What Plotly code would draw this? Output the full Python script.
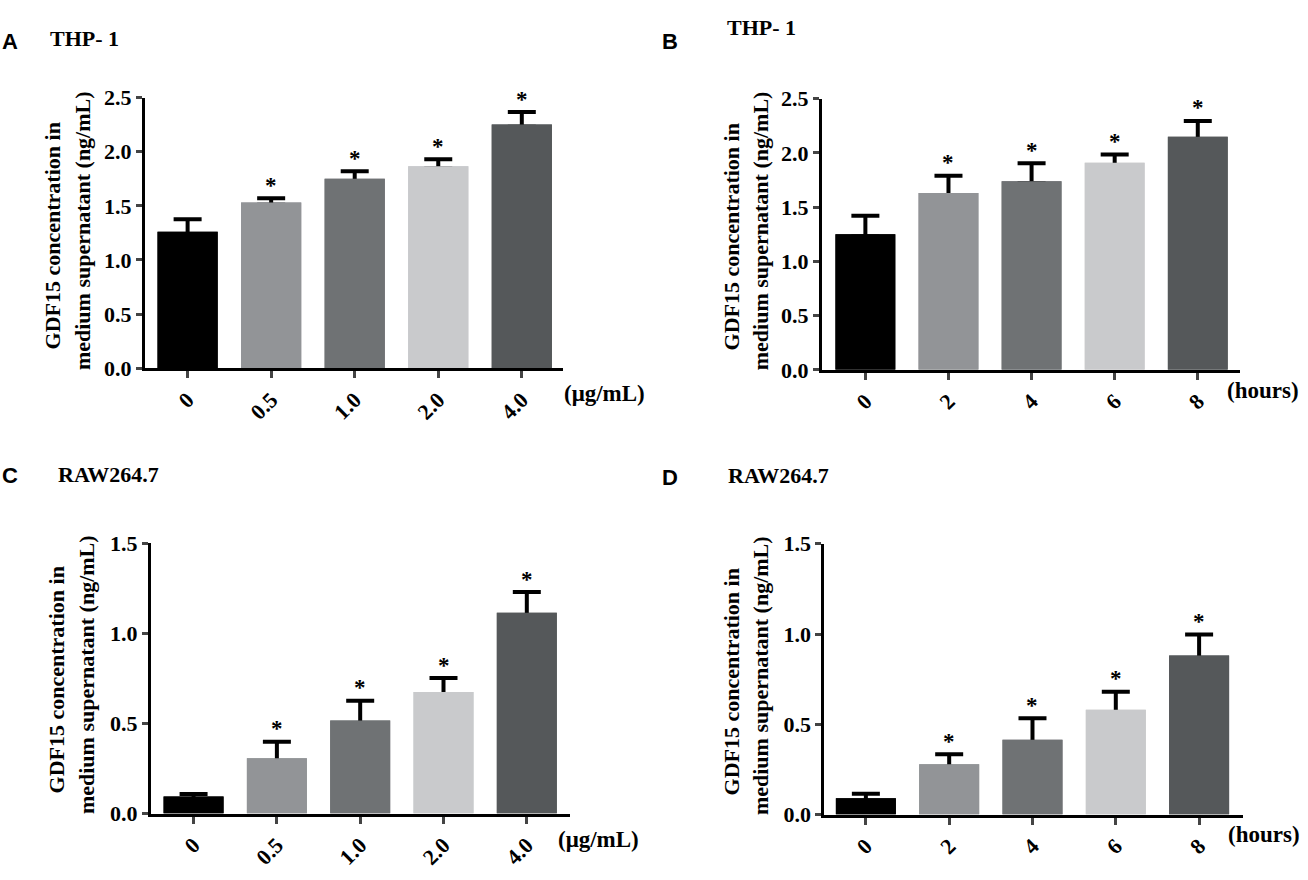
import plotly.graph_objects as go

# data
dose_labels = ["0", "0.5", "1.0", "2.0", "4.0"]
time_labels = ["0", "2", "4", "6", "8"]

thp1_dose_mean = [1.26, 1.53, 1.75, 1.865, 2.25]
thp1_dose_sd = [0.115, 0.04, 0.07, 0.065, 0.115]
thp1_time_mean = [1.25, 1.63, 1.74, 1.91, 2.15]
thp1_time_sd = [0.17, 0.16, 0.165, 0.075, 0.145]
raw_dose_mean = [0.094, 0.307, 0.516, 0.675, 1.114]
raw_dose_sd = [0.014, 0.091, 0.11, 0.077, 0.115]
raw_time_mean = [0.09, 0.278, 0.414, 0.58, 0.881]
raw_time_sd = [0.025, 0.056, 0.12, 0.1, 0.116]

significant = [False, True, True, True, True]
bar_colors = ["#000000", "#929497", "#6f7274", "#c9cacc", "#55585a"]

SERIF = "Liberation Serif"
SANS = "Liberation Sans"
W, H = 1308, 880

# positions in px (x from left, y from top)
panels = [
    dict(letter="A", cell="THP- 1", labels=dose_labels, mean=thp1_dose_mean, sd=thp1_dose_sd,
         unit="(μg/mL)", xpx=(145, 563), ypx=(88, 366.7), xr=[-0.51, 4.493], ymax=2.5,
         letter_pos=(0, 30.5), title_pos=(48, 27), unit_pos=(562, 393),
         t1=(52, 231), t2=(82, 224.5)),
    dict(letter="B", cell="THP- 1", labels=time_labels, mean=thp1_time_mean, sd=thp1_time_sd,
         unit="(hours)", xpx=(822, 1240), ypx=(89.3, 368.3), xr=[-0.522, 4.508], ymax=2.5,
         letter_pos=(660, 30.5), title_pos=(725, 16), unit_pos=(1225, 390),
         t1=(731, 232), t2=(760, 225.7)),
    dict(letter="C", cell="RAW264.7", labels=dose_labels, mean=raw_dose_mean, sd=raw_dose_sd,
         unit="(μg/mL)", xpx=(151, 570.3), ypx=(546.7, 825), xr=[-0.511, 4.522], ymax=1.5,
         letter_pos=(0, 477.5), title_pos=(56, 476), unit_pos=(556, 851.7),
         t1=(56, 688), t2=(86, 682.5)),
    dict(letter="D", cell="RAW264.7", labels=time_labels, mean=raw_time_mean, sd=raw_time_sd,
         unit="(hours)", xpx=(824.3, 1242.6), ypx=(547.3, 826), xr=[-0.499, 4.522], ymax=1.5,
         letter_pos=(660, 479.5), title_pos=(726, 477.5), unit_pos=(1226, 846.7),
         t1=(731, 690), t2=(760, 683.5)),
]


def px(x, y):
    return x / W, 1 - y / H


def bold_serif(size):
    return dict(family=SERIF, size=size, color="black", weight="bold")


fig = go.Figure()
annotations = []

for i, p in enumerate(panels, start=1):
    xa = "x" if i == 1 else f"x{i}"
    ya = "y" if i == 1 else f"y{i}"
    xs = list(range(len(p["labels"])))
    # bars carrying the upper error bars
    fig.add_trace(go.Bar(
        x=xs, y=p["mean"], xaxis=xa, yaxis=ya, width=0.72,
        marker=dict(color=bar_colors, line=dict(width=0)),
        error_y=dict(type="data", symmetric=False, array=p["sd"], arrayminus=[0.02] * len(xs),
                     color="black", thickness=4, width=14),
        showlegend=False, hoverinfo="skip",
    ))
    # same bars again on top, hiding the lower part of the error bars
    fig.add_trace(go.Bar(
        x=xs, y=p["mean"], xaxis=xa, yaxis=ya, width=0.72,
        marker=dict(color=bar_colors, line=dict(width=0)),
        showlegend=False, hoverinfo="skip",
    ))
    axkey = "" if i == 1 else str(i)
    fig.update_layout(**{
        f"xaxis{axkey}": dict(
            domain=[p["xpx"][0] / W, p["xpx"][1] / W], anchor=ya, range=p["xr"],
            tickmode="array", tickvals=xs, ticktext=p["labels"], tickangle=-45,
            ticks="outside", ticklen=7, tickwidth=3, showline=True, linewidth=3,
            linecolor="black", showgrid=False, zeroline=False, tickfont=bold_serif(22),
        ),
        f"yaxis{axkey}": dict(
            domain=[1 - p["ypx"][1] / H, 1 - p["ypx"][0] / H], anchor=xa,
            range=[0, p["ymax"]], dtick=0.5, tickformat=".1f",
            ticks="outside", ticklen=6, tickwidth=3, showline=True, linewidth=3,
            linecolor="black", showgrid=False, zeroline=False, tickfont=bold_serif(22),
        ),
    })
    # significance stars
    for x, m, s, sig in zip(xs, p["mean"], p["sd"], significant):
        if sig:
            annotations.append(dict(x=x, y=m + s, xref=xa, yref=ya, text="*", showarrow=False,
                                    yanchor="middle", yshift=13, font=bold_serif(23)))
    lx, ly = px(*p["letter_pos"])
    annotations.append(dict(x=lx, y=ly, xref="paper", yref="paper", text=p["letter"],
                            showarrow=False, xanchor="left", yanchor="middle",
                            font=dict(family=SANS, size=22, color="black", weight="bold")))
    tx, ty = px(*p["title_pos"])
    annotations.append(dict(x=tx, y=ty, xref="paper", yref="paper", text=p["cell"],
                            showarrow=False, xanchor="left", yanchor="middle", font=bold_serif(22)))
    ux, uy = px(*p["unit_pos"])
    annotations.append(dict(x=ux, y=uy, xref="paper", yref="paper", text=p["unit"],
                            showarrow=False, xanchor="left", yanchor="middle", font=bold_serif(23)))
    # y-axis title, two lines
    for txt, pos in zip(["GDF15 concentration in", "medium supernatant (ng/mL)"], [p["t1"], p["t2"]]):
        cx, cy = px(*pos)
        annotations.append(dict(x=cx, y=cy, xref="paper", yref="paper", text=txt, textangle=-90,
                                showarrow=False, xanchor="center", yanchor="middle",
                                font=bold_serif(22)))

fig.update_layout(
    width=W, height=H, margin=dict(l=0, r=0, t=0, b=0),
    paper_bgcolor="white", plot_bgcolor="white",
    annotations=annotations, barmode="overlay",
)
fig.write_html("out.html", config={"displayModeBar": False},
               post_script="document.body.style.margin='0';")
